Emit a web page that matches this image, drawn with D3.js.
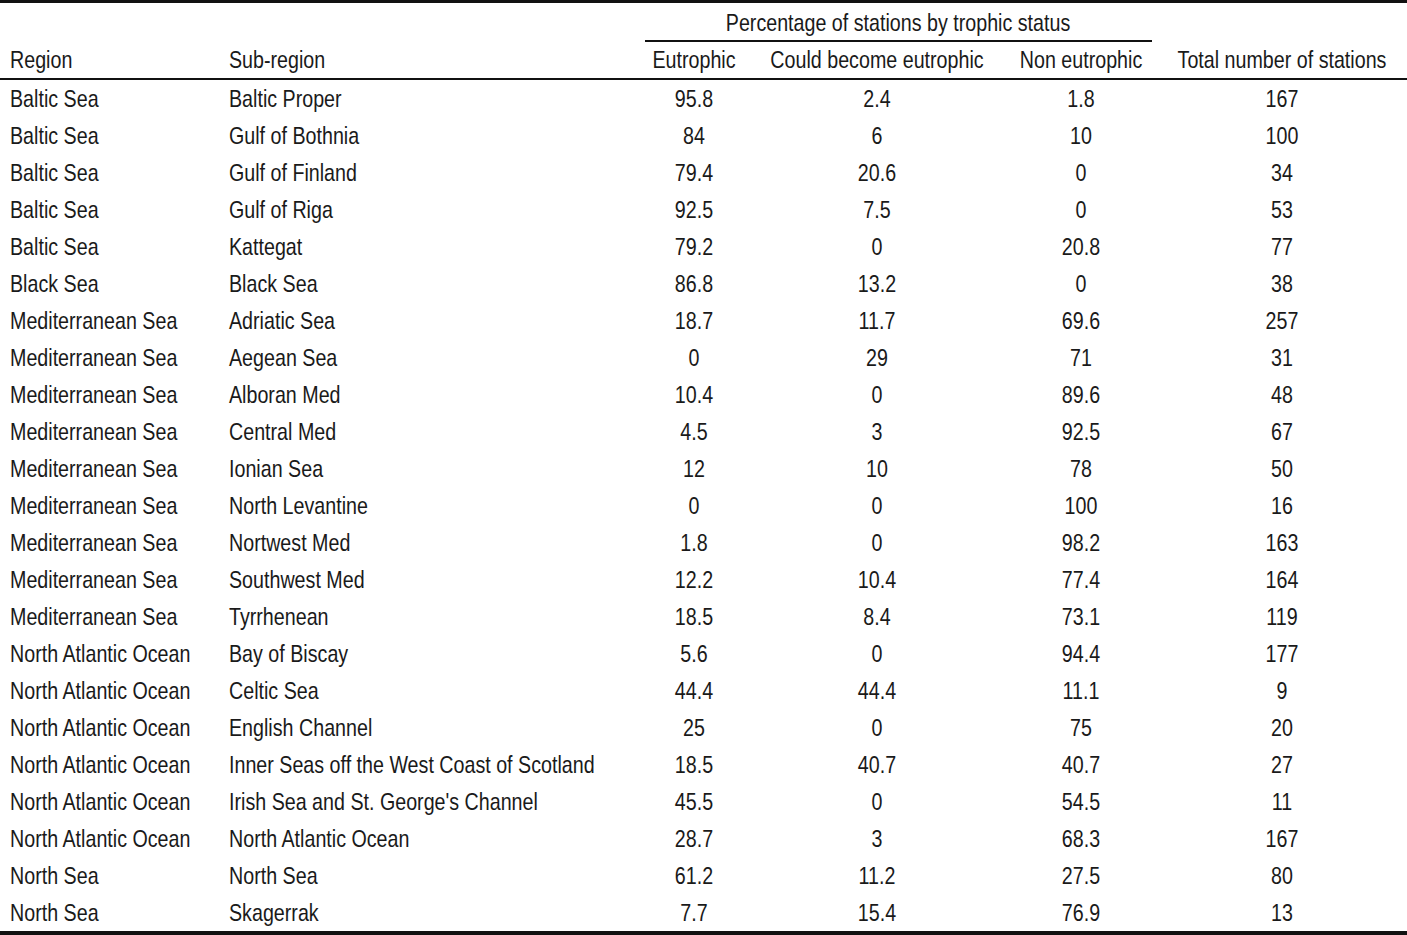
<!DOCTYPE html>
<html><head><meta charset="utf-8">
<script src="https://cdn.jsdelivr.net/npm/d3@7"></script>
<style>body{margin:0;background:#fff}svg{display:block}text{font-family:"Liberation Sans",Arial,sans-serif;font-size:24px;fill:#1a1a1a}</style>
</head><body><svg id="tbl"></svg>
<script>
// Table data
const regions = ["Baltic Sea","Baltic Sea","Baltic Sea","Baltic Sea","Baltic Sea","Black Sea",
  "Mediterranean Sea","Mediterranean Sea","Mediterranean Sea","Mediterranean Sea","Mediterranean Sea",
  "Mediterranean Sea","Mediterranean Sea","Mediterranean Sea","Mediterranean Sea",
  "North Atlantic Ocean","North Atlantic Ocean","North Atlantic Ocean","North Atlantic Ocean",
  "North Atlantic Ocean","North Atlantic Ocean","North Sea","North Sea"];
const subRegions = ["Baltic Proper","Gulf of Bothnia","Gulf of Finland","Gulf of Riga","Kattegat","Black Sea",
  "Adriatic Sea","Aegean Sea","Alboran Med","Central Med","Ionian Sea","North Levantine","Nortwest Med",
  "Southwest Med","Tyrrhenean","Bay of Biscay","Celtic Sea","English Channel",
  "Inner Seas off the West Coast of Scotland","Irish Sea and St. George's Channel","North Atlantic Ocean",
  "North Sea","Skagerrak"];
const eutrophic = ["95.8","84","79.4","92.5","79.2","86.8","18.7","0","10.4","4.5","12","0","1.8","12.2","18.5","5.6","44.4","25","18.5","45.5","28.7","61.2","7.7"];
const couldBecome = ["2.4","6","20.6","7.5","0","13.2","11.7","29","0","3","10","0","0","10.4","8.4","0","44.4","0","40.7","0","3","11.2","15.4"];
const nonEutrophic = ["1.8","10","0","0","20.8","0","69.6","71","89.6","92.5","78","100","98.2","77.4","73.1","94.4","11.1","75","40.7","54.5","68.3","27.5","76.9"];
const totals = ["167","100","34","53","77","38","257","31","48","67","50","16","163","164","119","177","9","20","27","11","167","80","13"];
const headers = ["Region","Sub-region","Eutrophic","Could become eutrophic","Non eutrophic","Total number of stations"];
const spanner = "Percentage of stations by trophic status";

const W = 1407, H = 935;
const SX = 0.82; // condensed look
const svg = d3.select("#tbl").attr("width", W).attr("height", H);

const cols = [
  {x: 10, anchor: "start", vals: regions},
  {x: 229, anchor: "start", vals: subRegions},
  {x: 694, anchor: "middle", vals: eutrophic},
  {x: 877, anchor: "middle", vals: couldBecome},
  {x: 1081, anchor: "middle", vals: nonEutrophic},
  {x: 1282, anchor: "middle", vals: totals}
];

const y = d3.scaleBand().domain(d3.range(regions.length)).range([80, 931]);

function put(sel, x, yy, anchor, txt) {
  return sel.append("text")
    .attr("transform", `translate(${x},${yy}) scale(${SX},1)`)
    .attr("dy", "0.35em")
    .attr("text-anchor", anchor)
    .text(txt);
}

// rules
svg.append("rect").attr("x", 0).attr("y", 0).attr("width", W).attr("height", 3).attr("fill", "#111");
svg.append("rect").attr("x", 645).attr("y", 40).attr("width", 507).attr("height", 2).attr("fill", "#111");
svg.append("rect").attr("x", 0).attr("y", 78).attr("width", W).attr("height", 2).attr("fill", "#111");
svg.append("rect").attr("x", 0).attr("y", 931).attr("width", W).attr("height", 4).attr("fill", "#111");

put(svg, 898, 23, "middle", spanner);
cols.forEach((c, i) => put(svg, c.x, 60, c.anchor, headers[i]));

cols.forEach(c => {
  const g = svg.append("g");
  c.vals.forEach((v, i) => put(g, c.x, y(i) + y.bandwidth() / 2, c.anchor, v));
});
</script></body></html>
